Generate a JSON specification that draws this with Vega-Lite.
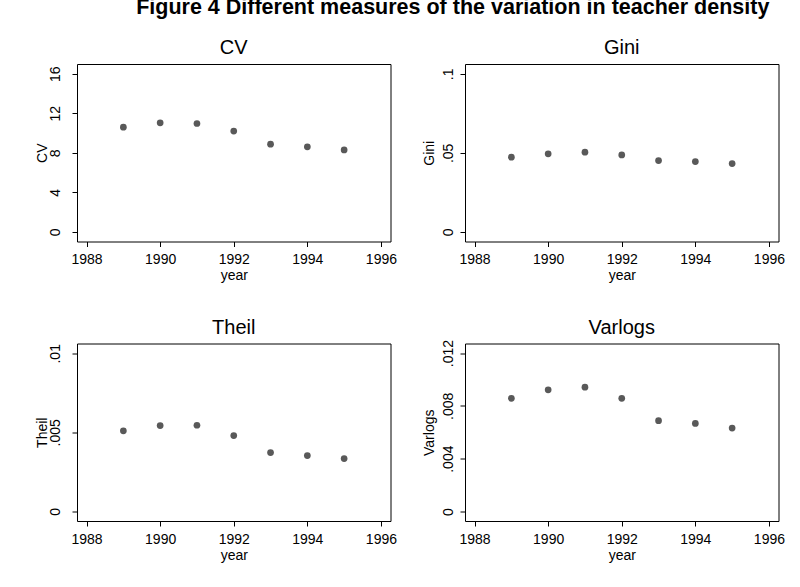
{
  "$schema": "https://vega.github.io/schema/vega-lite/v6.json",
  "autosize": {"type": "pad"},
  "padding": {"left": 34, "top": -3, "right": 0, "bottom": 0},
  "background": "white",
  "title": {"text": "Figure 4 Different measures of the variation in teacher density", "font": "Liberation Sans", "fontSize": 21.5, "fontWeight": "bold", "color": "black", "anchor": "middle", "dx": 43, "offset": 19},
  "data": {"values": [
    {"year": 1989, "CV": 10.6, "Gini": 0.0473, "Theil": 0.00510, "Varlogs": 0.00857},
    {"year": 1990, "CV": 11.04, "Gini": 0.0494, "Theil": 0.00543, "Varlogs": 0.00921},
    {"year": 1991, "CV": 10.97, "Gini": 0.0504, "Theil": 0.00545, "Varlogs": 0.00941},
    {"year": 1992, "CV": 10.2, "Gini": 0.0487, "Theil": 0.00480, "Varlogs": 0.00857},
    {"year": 1993, "CV": 8.88, "Gini": 0.0451, "Theil": 0.00372, "Varlogs": 0.00688},
    {"year": 1994, "CV": 8.61, "Gini": 0.0445, "Theil": 0.00353, "Varlogs": 0.00667},
    {"year": 1995, "CV": 8.3, "Gini": 0.0432, "Theil": 0.00334, "Varlogs": 0.00632}
  ]},
  "columns": 2,
  "spacing": {"row": 101.5, "column": 74},
  "bounds": "flush",
  "concat": [
    {
      "title": {"text": "CV"},
      "width": 313.5, "height": 177.5,
      "mark": {"type": "point", "filled": true, "size": 45, "color": "#595959", "opacity": 1},
      "encoding": {
        "x": {"field": "year", "type": "quantitative", "scale": {"domain": [1987.74, 1996.26], "nice": false, "zero": false}, "axis": {"values": [1988, 1990, 1992, 1994, 1996], "format": "d", "title": "year"}},
        "y": {"field": "CV", "type": "quantitative", "scale": {"domain": [-0.97, 16.99], "nice": false, "zero": false}, "axis": {"values": [0, 4, 8, 12, 16], "title": "CV", "labelPadding": 13, "titlePadding": -1}}
      }
    },
    {
      "title": {"text": "Gini"},
      "width": 313.5, "height": 177.5,
      "mark": {"type": "point", "filled": true, "size": 45, "color": "#595959", "opacity": 1},
      "encoding": {
        "x": {"field": "year", "type": "quantitative", "scale": {"domain": [1987.74, 1996.26], "nice": false, "zero": false}, "axis": {"values": [1988, 1990, 1992, 1994, 1996], "format": "d", "title": "year"}},
        "y": {"field": "Gini", "type": "quantitative", "scale": {"domain": [-0.00606, 0.1062], "nice": false, "zero": false}, "axis": {"values": [0, 0.05, 0.1], "labelExpr": "replace(toString(datum.value), '0.', '.')", "title": "Gini", "labelPadding": 7.5, "titlePadding": 5}}
      }
    },
    {
      "title": {"text": "Theil"},
      "width": 313.5, "height": 177.5,
      "mark": {"type": "point", "filled": true, "size": 45, "color": "#595959", "opacity": 1},
      "encoding": {
        "x": {"field": "year", "type": "quantitative", "scale": {"domain": [1987.74, 1996.26], "nice": false, "zero": false}, "axis": {"values": [1988, 1990, 1992, 1994, 1996], "format": "d", "title": "year"}},
        "y": {"field": "Theil", "type": "quantitative", "scale": {"domain": [-0.000606, 0.01062], "nice": false, "zero": false}, "axis": {"values": [0, 0.005, 0.01], "labelExpr": "replace(toString(datum.value), '0.', '.')", "title": "Theil", "labelPadding": 13, "titlePadding": -1}}
      }
    },
    {
      "title": {"text": "Varlogs", "dy": 5},
      "width": 313.5, "height": 177.5,
      "mark": {"type": "point", "filled": true, "size": 45, "color": "#595959", "opacity": 1},
      "encoding": {
        "x": {"field": "year", "type": "quantitative", "scale": {"domain": [1987.74, 1996.26], "nice": false, "zero": false}, "axis": {"values": [1988, 1990, 1992, 1994, 1996], "format": "d", "title": "year"}},
        "y": {"field": "Varlogs", "type": "quantitative", "scale": {"domain": [-0.00072, 0.01272], "nice": false, "zero": false}, "axis": {"values": [0, 0.004, 0.008, 0.012], "labelExpr": "replace(toString(datum.value), '0.', '.')", "title": "Varlogs", "labelPadding": 7.5, "titlePadding": 5}}
      }
    }
  ],
  "config": {
    "view": {"stroke": "black", "strokeWidth": 1},
    "axis": {"domain": false, "grid": false, "ticks": true, "tickColor": "black", "tickSize": 5, "labelFont": "Liberation Sans", "labelFontSize": 14, "labelColor": "black", "titleFont": "Liberation Sans", "titleFontSize": 14, "titleFontWeight": "normal", "titleColor": "black"},
    "axisY": {"labelAngle": 270, "labelAlign": "center", "labelBaseline": "alphabetic"},
    "axisX": {"labelPadding": 6, "titlePadding": 2},
    "title": {"font": "Liberation Sans", "fontSize": 20, "fontWeight": "normal", "color": "black", "offset": 6}
  }
}
